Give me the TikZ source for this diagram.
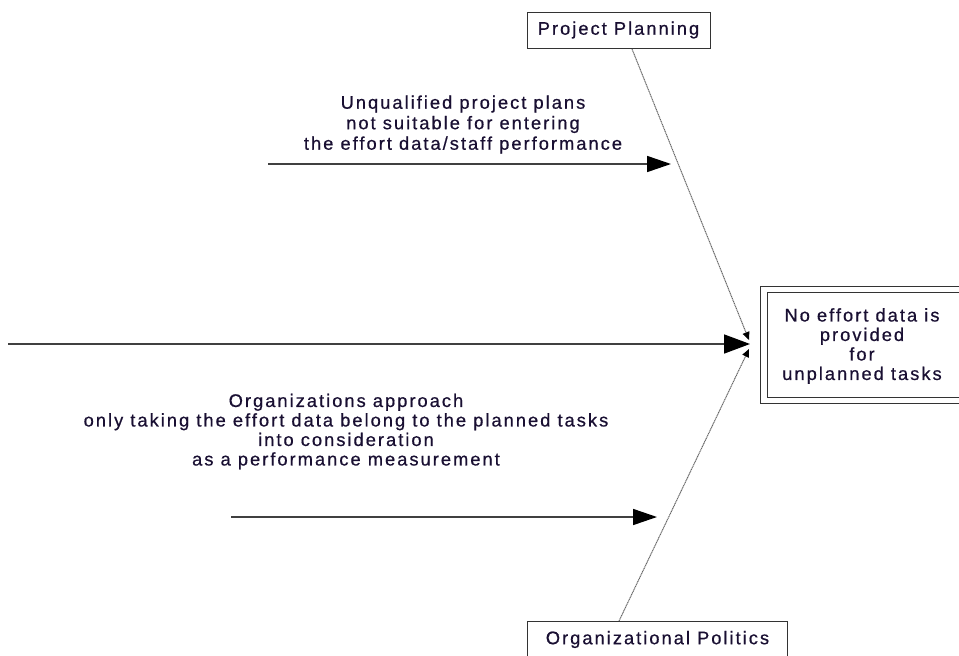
\documentclass[tikz,border=0pt]{standalone}
\usepackage{fontspec}
\setmainfont{Liberation Sans}[LetterSpace=11,FakeBold=0.6]
\usetikzlibrary{arrows.meta}
\definecolor{txt}{RGB}{25,15,50}
\begin{document}
\begin{tikzpicture}[x=1pt,y=-1pt,
  every node/.style={font=\fontsize{18.3}{19.5}\selectfont, text=txt, align=center, inner sep=0pt},
  catbox/.style={draw=black!80, line width=1pt, fill=white, minimum height=36pt},
  mainline/.style={draw=black!75, line width=1.6pt},
  branch/.style={draw=black!60, line width=1pt, dash pattern=on 1.2pt off 0.6pt},
  bigtip/.style={-{Triangle[length=26pt,width=19pt,color=black]}},
  midtip/.style={-{Triangle[length=24pt,width=16pt,color=black]}},
  smalltip/.style={-{Triangle[length=8pt,width=7pt,color=black]}}]
\useasboundingbox (0,0) rectangle (959,656);
% effect box (extends past right edge)
\path[draw=black!80, line width=1pt] (760,286) -- (980,286) (760,286) -- (760,403) -- (980,403);
\path[draw=black!80, line width=1pt] (767,292) -- (980,292) (767,292) -- (767,397) -- (980,397);
\node (effect) at (862,346) {No effort data is\\provided\\for\\unplanned tasks};
\coordinate (hit) at (750,344);
% categories
\node[catbox, minimum width=183pt] (pp) at (618.5,30) {Project Planning};
\node[catbox, minimum width=260pt, anchor=north west] (op) at (527,621) {Organizational Politics};
% spine
\coordinate (tail) at (8,344);
\draw[mainline, bigtip] (tail) -- (hit);
% branches
\coordinate (ppfoot) at (632,49);
\coordinate (opfoot) at (619,621);
\draw[branch, smalltip] (ppfoot) -- (749,340);
\draw[branch, smalltip] (opfoot) -- (749,349);
% cause arrows
\coordinate (c1s) at (268,164);
\coordinate (c1e) at (671,164);
\draw[mainline, midtip] (c1s) -- (c1e);
\node[font=\fontsize{18.3}{20.5}\selectfont] (c1) at (463,124.5) {Unqualified project plans\\not suitable for entering\\the effort data/staff performance};
\coordinate (c2s) at (231,517);
\coordinate (c2e) at (657,517);
\draw[mainline, midtip] (c2s) -- (c2e);
\node (c2) at (346,431.5) {Organizations approach\\only taking the effort data belong to the planned tasks\\into consideration\\as a performance measurement};
\end{tikzpicture}
\end{document}
